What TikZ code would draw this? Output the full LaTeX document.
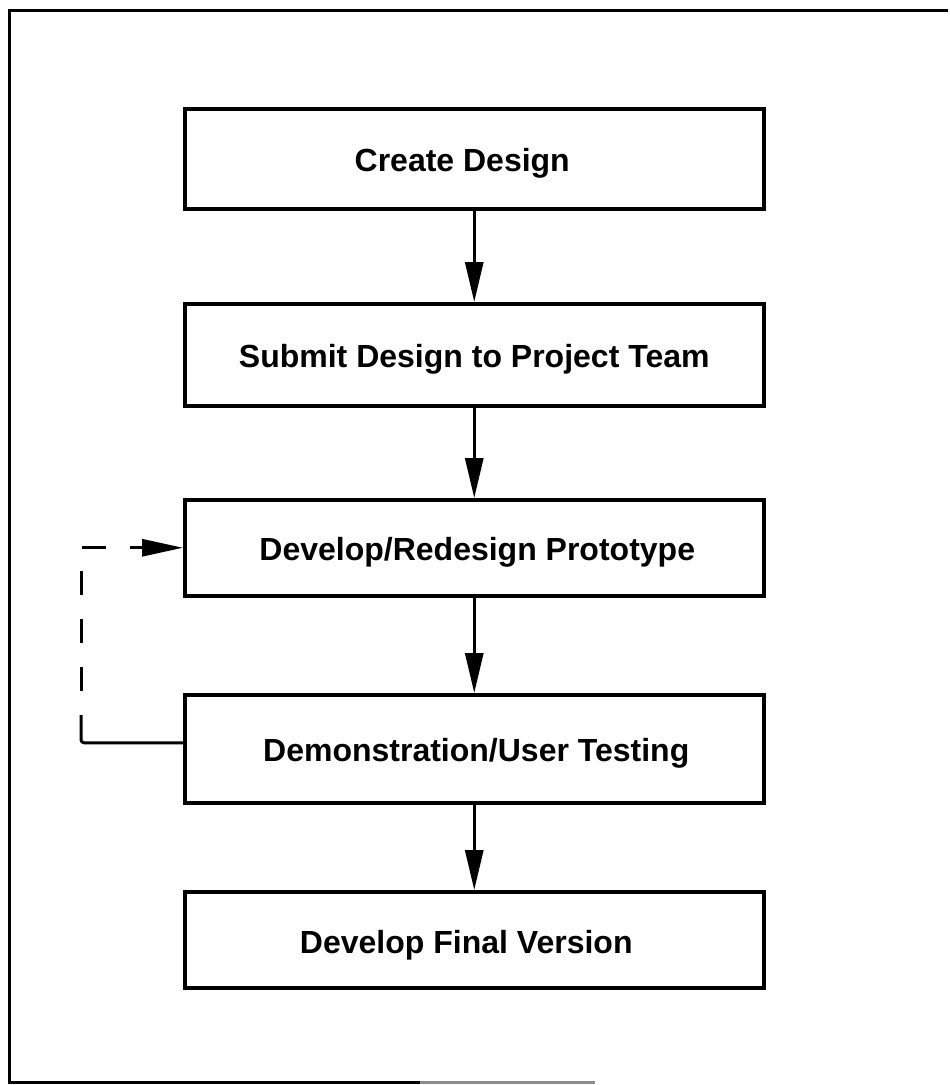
\documentclass[tikz,border=0pt]{standalone}
\usepackage{fontspec}
\setmainfont{Liberation Sans}
\usetikzlibrary{arrows.meta}
\newcommand\lowtext[2][0pt]{\kern#1\raisebox{-5pt}[\height][\depth]{#2}}
\begin{document}
\begin{tikzpicture}[x=1pt,y=-1pt,
  stepbox/.style={draw, line width=3.5pt, anchor=north west, minimum width=579pt,
    inner sep=0pt, font=\fontsize{32}{37}\selectfont\bfseries},
  flow/.style={line width=3pt, -{Triangle[length=40pt,width=18pt]}},
  frame/.style={line width=3pt},
  loopsolid/.style={line width=3pt, rounded corners=3pt},
  loopdash/.style={line width=3pt, dash pattern=on 24pt off 24pt, dash phase=24pt,
    -{Triangle[length=41pt,width=17pt]}}]
\fill[white] (0,0) rectangle (948,1085);
% outer frame (right side open)
\draw[frame] (948,10) -- (9,10) -- (9,1082) -- (420,1082);
\draw[frame, black!45] (420,1082) -- (595,1082);
% boxes
\node[stepbox, minimum height=100pt] (b1) at (183,107) {\lowtext[-24pt]{Create Design}};
\node[stepbox, minimum height=102pt] (b2) at (183,302) {\lowtext{Submit Design to Project Team}};
\node[stepbox, minimum height=96pt]  (b3) at (183,498) {\lowtext[6pt]{Develop/Redesign Prototype}};
\node[stepbox, minimum height=108pt] (b4) at (183,693) {\lowtext[4pt]{Demonstration/User Testing}};
\node[stepbox, minimum height=96pt]  (b5) at (183,890) {\lowtext[-16pt]{Develop Final Version}};
% flow arrows
\draw[flow] (b1.south) -- (b2.north);
\draw[flow] (b2.south) -- (b3.north);
\draw[flow] (b3.south) -- (b4.north);
\draw[flow] (b4.south) -- (b5.north);
% feedback loop
\coordinate (c2) at (81,715);
\draw[loopsolid] ([yshift=6pt]b4.west) -| (c2);
\draw[loopdash] (c2) |- (b3.west);
\end{tikzpicture}
\end{document}
